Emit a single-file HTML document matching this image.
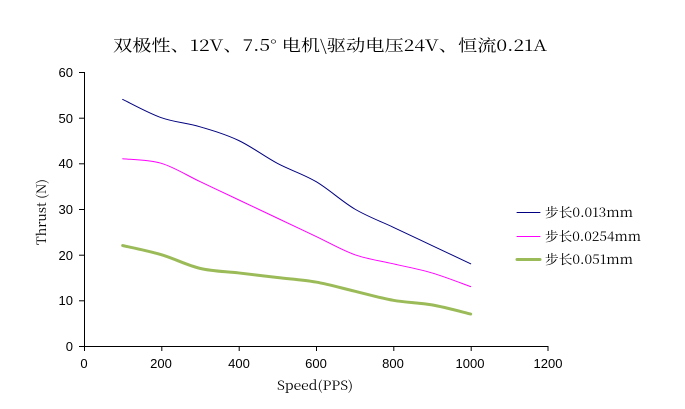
<!DOCTYPE html>
<html><head><meta charset="utf-8"><style>
html,body{margin:0;padding:0;background:#fff;}
svg{display:block;}
text{font-family:"Liberation Sans","Noto Serif CJK SC",serif;fill:#000;}
.c{font-family:"Noto Serif CJK SC","Liberation Serif",serif;}
</style></head><body>
<svg width="685" height="409" viewBox="0 0 685 409" xmlns="http://www.w3.org/2000/svg">
<text class="c" x="113" y="51" font-size="16" textLength="434" lengthAdjust="spacingAndGlyphs">双极性、12V、7.5° 电机\驱动电压24V、恒流0.21A</text>
<g stroke="#000" stroke-width="1" fill="none">
<line x1="84.5" y1="72" x2="84.5" y2="346.5"/>
<line x1="84" y1="346.5" x2="548" y2="346.5"/>
<line x1="79" y1="72.5" x2="84" y2="72.5"/>
<line x1="79" y1="118.2" x2="84" y2="118.2"/>
<line x1="79" y1="163.8" x2="84" y2="163.8"/>
<line x1="79" y1="209.5" x2="84" y2="209.5"/>
<line x1="79" y1="255.2" x2="84" y2="255.2"/>
<line x1="79" y1="300.8" x2="84" y2="300.8"/>
<line x1="79" y1="346.5" x2="84" y2="346.5"/>
<line x1="84.5" y1="346" x2="84.5" y2="351"/>
<line x1="161.8" y1="346" x2="161.8" y2="351"/>
<line x1="239.2" y1="346" x2="239.2" y2="351"/>
<line x1="316.5" y1="346" x2="316.5" y2="351"/>
<line x1="393.8" y1="346" x2="393.8" y2="351"/>
<line x1="471.2" y1="346" x2="471.2" y2="351"/>
<line x1="548" y1="346" x2="548" y2="351"/>
</g>
<g font-size="13" text-anchor="end">
<text x="73" y="77">60</text><text x="73" y="123">50</text><text x="73" y="168">40</text>
<text x="73" y="214">30</text><text x="73" y="260">20</text><text x="73" y="305">10</text><text x="73" y="351">0</text>
</g>
<g font-size="13" text-anchor="middle">
<text x="84" y="368">0</text><text x="161" y="368">200</text><text x="239" y="368">400</text>
<text x="316" y="368">600</text><text x="393" y="368">800</text><text x="470" y="368">1000</text><text x="548" y="368">1200</text>
</g>
<text class="c" x="277" y="390" font-size="13" textLength="76" lengthAdjust="spacingAndGlyphs">Speed(PPS)</text>
<text class="c" transform="translate(46,245) rotate(-90)" font-size="13" textLength="66" lengthAdjust="spacingAndGlyphs">Thrust (N)</text>
<g fill="none" stroke-linejoin="round" stroke-linecap="round">
<path id="p1" stroke="#000080" stroke-width="1"/>
<path id="p2" stroke="#ff00ff" stroke-width="1"/>
<path id="p3" stroke="#9bbb59" stroke-width="3"/>
<line x1="517" y1="212.5" x2="540" y2="212.5" stroke="#000080" stroke-width="1"/>
<line x1="517" y1="236.5" x2="540" y2="236.5" stroke="#ff00ff" stroke-width="1"/>
<line x1="517" y1="259.5" x2="540" y2="259.5" stroke="#9bbb59" stroke-width="3"/>
</g>
<g font-size="13" class="c">
<text class="c" x="545" y="217" textLength="88" lengthAdjust="spacingAndGlyphs">步长0.013mm</text>
<text class="c" x="545" y="241" textLength="96" lengthAdjust="spacingAndGlyphs">步长0.0254mm</text>
<text class="c" x="545" y="264" textLength="88" lengthAdjust="spacingAndGlyphs">步长0.051mm</text>
</g>
</svg>
<script>
var xs=[122.7,161.3,200,238.7,277.3,316,354.7,393.3,432,470.7];
var ds={p1:[54,50,48,45,40,36,30,26,22,18],p2:[41,40,36,32,28,24,20,18,16,13],p3:[22,20,17,16,15,14,12,10,9,7]};
for(var k in ds){var v=ds[k],P=v.map(function(d,i){return [xs[i],346-d*4.5667];});
var s="M"+P[0][0]+","+P[0][1];
for(var i=0;i<P.length-1;i++){var p0=P[Math.max(i-1,0)],p1=P[i],p2=P[i+1],p3=P[Math.min(i+2,P.length-1)];
var t=6;s+=" C"+(p1[0]+(p2[0]-p0[0])/t)+","+(p1[1]+(p2[1]-p0[1])/t)+" "+(p2[0]-(p3[0]-p1[0])/t)+","+(p2[1]-(p3[1]-p1[1])/t)+" "+p2[0]+","+p2[1];}
document.getElementById(k).setAttribute("d",s);}
</script>
</body></html>
